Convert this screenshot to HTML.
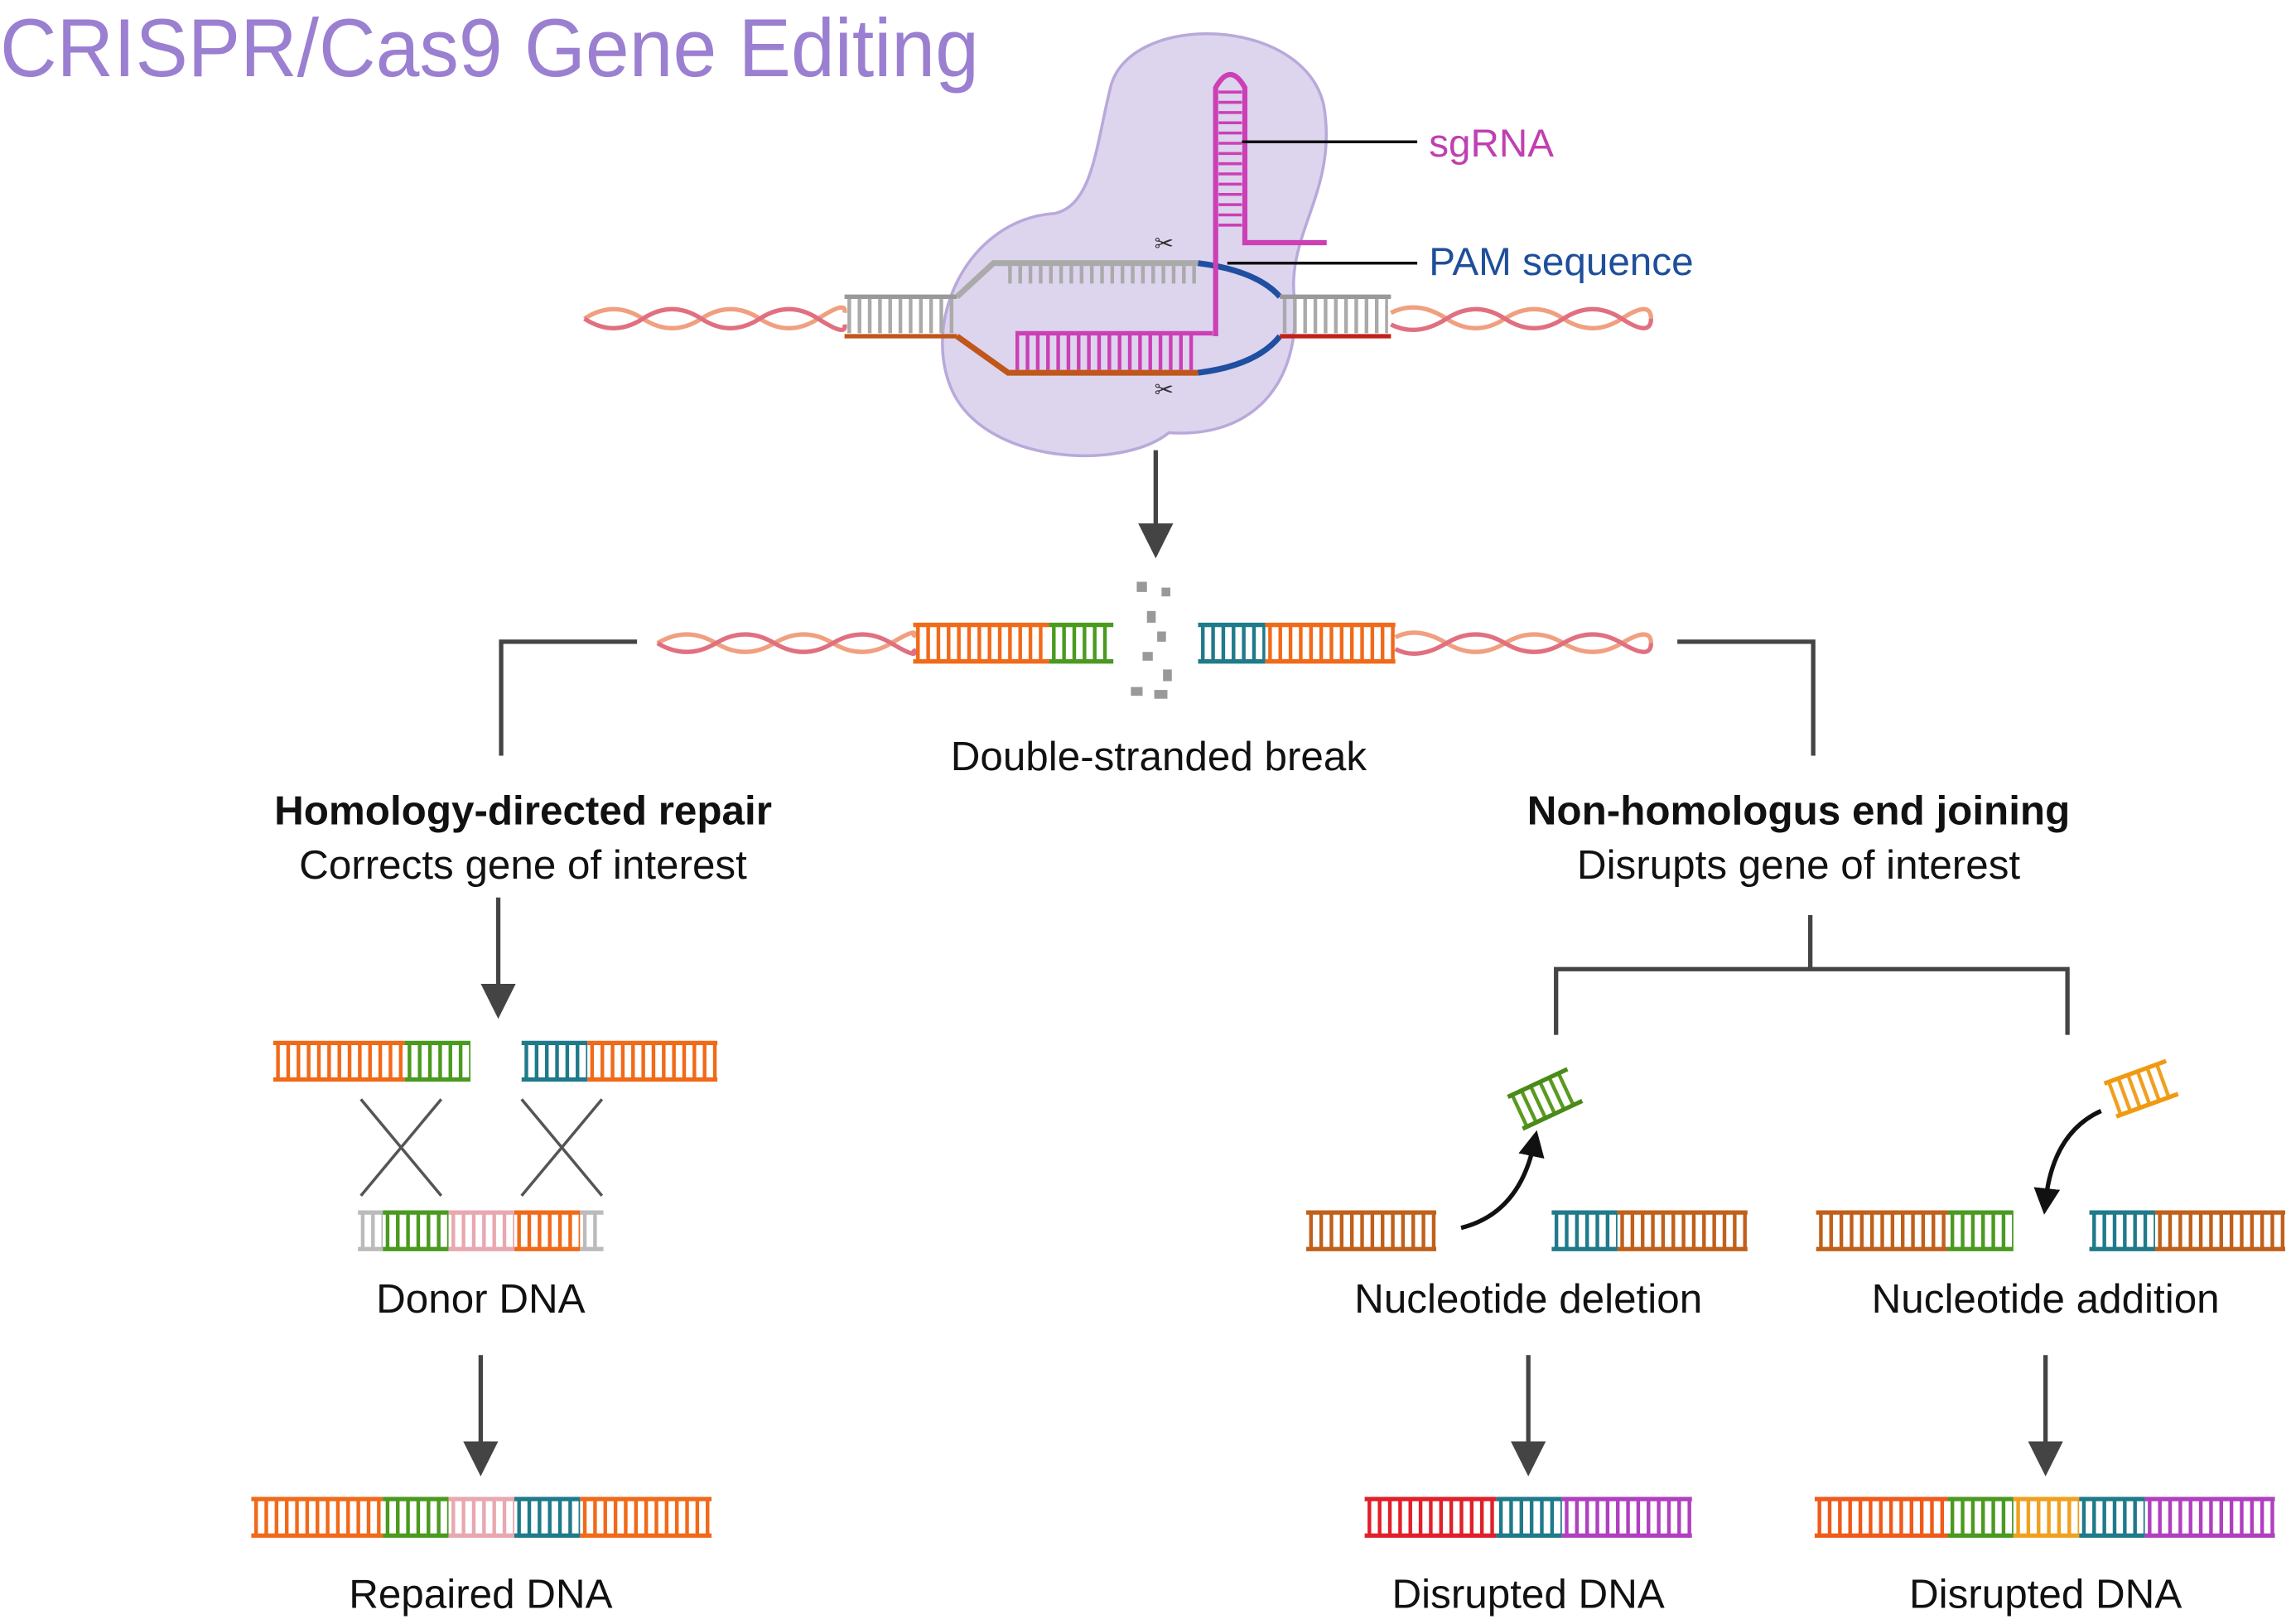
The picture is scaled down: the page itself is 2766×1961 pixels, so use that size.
<!DOCTYPE html>
<html><head><meta charset="utf-8">
<style>html,body{margin:0;padding:0;background:#fff;}svg{display:block}</style>
</head><body>
<svg width="2766" height="1961" viewBox="0 0 1568 1111" preserveAspectRatio="none" xmlns="http://www.w3.org/2000/svg" font-family="Liberation Sans, sans-serif">
<defs>
<marker id="ah" markerWidth="8" markerHeight="8" refX="4" refY="4" orient="auto" markerUnits="strokeWidth">
<path d="M0,0 L8,4 L0,8 Z" fill="#444"/></marker>
<marker id="ak" markerWidth="6" markerHeight="6" refX="3" refY="3" orient="auto" markerUnits="strokeWidth">
<path d="M0,0 L6,3 L0,6 Z" fill="#111"/></marker>
</defs>
<text x="0" y="52" font-size="56" fill="#9b7fd0" textLength="670" lengthAdjust="spacingAndGlyphs">CRISPR/Cas9 Gene Editing</text>

<!-- Cas9 blob -->
<path d="M760,60 C772,8 892,10 906,72 C916,130 880,160 886,205 C890,262 858,300 800,296 C768,322 676,318 652,268 C630,220 662,150 722,146 C748,140 750,100 760,60 Z" fill="#ddd4ee" stroke="#b9a9da" stroke-width="2"/>

<!-- helices top -->
<g fill="none" stroke-width="3">
<path d="M400,218 Q420,205 440,218 T480,218 T520,218 T560,218 T578,214" stroke="#f0a080"/>
<path d="M400,218 Q420,231 440,218 T480,218 T520,218 T560,218 T578,222" stroke="#e07080"/>
<path d="M952,214 Q970,205 990,218 T1030,218 T1070,218 T1110,218 T1130,218" stroke="#f0a080"/>
<path d="M952,222 Q970,231 990,218 T1030,218 T1070,218 T1110,218 T1130,218" stroke="#e07080"/>
</g>
<!-- top ladder -->
<line x1="580" y1="216" x2="655" y2="216" stroke="#aaa" stroke-width="24" stroke-dasharray="2.5 4.5"/>
<line x1="578" y1="203" x2="655" y2="203" stroke="#999" stroke-width="3"/>
<line x1="578" y1="230" x2="655" y2="230" stroke="#c0561a" stroke-width="3"/>
<path d="M655,203 L680,180 L820,180" stroke="#aaa" stroke-width="4" fill="none"/>
<line x1="690" y1="188" x2="820" y2="188" stroke="#aaa" stroke-width="12" stroke-dasharray="2.5 4.5"/>
<path d="M655,230 L690,255 L820,255" stroke="#c0561a" stroke-width="4" fill="none"/>
<line x1="695" y1="240" x2="820" y2="240" stroke="#cc3fb5" stroke-width="26" stroke-dasharray="2.5 4.5"/>
<line x1="695" y1="228" x2="830" y2="228" stroke="#cc3fb5" stroke-width="3"/>
<path d="M820,180 Q860,185 876,203 M820,255 Q860,250 876,230" stroke="#1f4fa0" stroke-width="4" fill="none"/>
<line x1="878" y1="216" x2="950" y2="216" stroke="#aaa" stroke-width="24" stroke-dasharray="2.5 4.5"/>
<line x1="876" y1="203" x2="952" y2="203" stroke="#999" stroke-width="3"/>
<line x1="876" y1="230" x2="952" y2="230" stroke="#c0221a" stroke-width="3"/>
<!-- sgRNA -->
<path d="M832,230 L832,60 Q842,42 852,60 L852,166 L908,166" stroke="#cc3fb5" stroke-width="3.5" fill="none"/>
<line x1="842" y1="62" x2="842" y2="160" stroke="#cc3fb5" stroke-width="16" stroke-dasharray="2 5"/>
<line x1="850" y1="97" x2="970" y2="97" stroke="#111" stroke-width="2"/>
<line x1="840" y1="180" x2="970" y2="180" stroke="#111" stroke-width="2"/>
<text x="978" y="107" font-size="27" fill="#c040b0">sgRNA</text>
<text x="978" y="188" font-size="27" fill="#1f4f9a">PAM sequence</text>
<text x="790" y="172" font-size="16" fill="#333">✂</text>
<text x="790" y="272" font-size="16" fill="#333">✂</text>

<!-- arrows & connectors -->
<g stroke="#444" stroke-width="3" fill="none">
<line x1="791" y1="308" x2="791" y2="370" marker-end="url(#ah)"/>
<polyline points="436,439 343,439 343,517"/>
<polyline points="1148,439 1241,439 1241,517"/>
<line x1="341" y1="614" x2="341" y2="685" marker-end="url(#ah)"/>
<line x1="329" y1="927" x2="329" y2="998" marker-end="url(#ah)"/>
<line x1="1046" y1="927" x2="1046" y2="998" marker-end="url(#ah)"/>
<line x1="1400" y1="927" x2="1400" y2="998" marker-end="url(#ah)"/>
<line x1="1239" y1="626" x2="1239" y2="663"/>
<polyline points="1065,708 1065,663 1415,663 1415,708"/>
</g>
<!-- break row helices -->
<g fill="none" stroke-width="3">
<path d="M450,440 Q470,428 490,440 T530,440 T570,440 T610,440 T625,436" stroke="#f0a080"/>
<path d="M450,440 Q470,452 490,440 T530,440 T570,440 T610,440 T625,444" stroke="#e07080"/>
<path d="M955,436 Q970,428 990,440 T1030,440 T1070,440 T1110,440 T1130,440" stroke="#f0a080"/>
<path d="M955,444 Q970,452 990,440 T1030,440 T1070,440 T1110,440 T1130,440" stroke="#e07080"/>
</g>
<g fill="#999">
<rect x="778" y="398" width="7" height="7"/><rect x="795" y="402" width="6" height="6"/><rect x="785" y="418" width="6" height="8"/>
<rect x="792" y="432" width="6" height="7"/><rect x="782" y="446" width="7" height="6"/><rect x="796" y="458" width="6" height="8"/>
<rect x="774" y="470" width="8" height="6"/><rect x="790" y="472" width="9" height="6"/>
</g>
<text x="793" y="527" font-size="28" fill="#111" text-anchor="middle">Double-stranded break</text>
<text x="358" y="564" font-size="28" font-weight="bold" fill="#111" text-anchor="middle">Homology-directed repair</text>
<text x="358" y="601" font-size="28" fill="#111" text-anchor="middle">Corrects gene of interest</text>
<text x="1231" y="564" font-size="28" font-weight="bold" fill="#111" text-anchor="middle">Non-homologus end joining</text>
<text x="1231" y="601" font-size="28" fill="#111" text-anchor="middle">Disrupts gene of interest</text>
<text x="329" y="898" font-size="28" fill="#111" text-anchor="middle">Donor DNA</text>
<text x="329" y="1100" font-size="28" fill="#111" text-anchor="middle">Repaired DNA</text>
<text x="1046" y="898" font-size="28" fill="#111" text-anchor="middle">Nucleotide deletion</text>
<text x="1400" y="898" font-size="28" fill="#111" text-anchor="middle">Nucleotide addition</text>
<text x="1046" y="1100" font-size="28" fill="#111" text-anchor="middle">Disrupted DNA</text>
<text x="1400" y="1100" font-size="28" fill="#111" text-anchor="middle">Disrupted DNA</text>
<!-- X crosses -->
<g stroke="#555" stroke-width="2">
<line x1="247" y1="752" x2="302" y2="818"/><line x1="302" y1="752" x2="247" y2="818"/>
<line x1="357" y1="752" x2="412" y2="818"/><line x1="412" y1="752" x2="357" y2="818"/>
</g>
<!-- curved arrows -->
<path d="M1000,840 Q1040,830 1050,782" stroke="#111" stroke-width="3" fill="none" marker-end="url(#ak)"/>
<path d="M1438,760 Q1405,775 1400,822" stroke="#111" stroke-width="3" fill="none" marker-end="url(#ak)"/>

<!-- ladder segments -->
<g id="segs"></g>
<g transform="rotate(-25 1057 752)"><line x1="1037" y1="752" x2="1077" y2="752" stroke="#5a9a20" stroke-width="22" stroke-dasharray="2.5 4.5"/><line x1="1035" y1="740" x2="1080" y2="740" stroke="#4a8a18" stroke-width="3"/><line x1="1035" y1="764" x2="1080" y2="764" stroke="#4a8a18" stroke-width="3"/></g>
<g transform="rotate(-20 1465 745)"><line x1="1445" y1="745" x2="1485" y2="745" stroke="#f0a020" stroke-width="22" stroke-dasharray="2.5 4.5"/><line x1="1443" y1="733" x2="1488" y2="733" stroke="#f09a10" stroke-width="3"/><line x1="1443" y1="757" x2="1488" y2="757" stroke="#f09a10" stroke-width="3"/></g>
</svg>
<script>
var S=[
[625,718,426,'#f06a1a'],[718,762,426,'#4a9a20'],[820,866,426,'#1f7a8a'],[866,955,426,'#f06a1a'],
[187,277,712,'#f06a1a'],[277,322,712,'#4a9a20'],[357,402,712,'#1f7a8a'],[402,491,712,'#f06a1a'],
[245,262,828,'#bbbbbb'],[262,307,828,'#4a9a20'],[307,352,828,'#e8a8b0'],[352,397,828,'#f06a1a'],[397,413,828,'#bbbbbb'],
[172,262,1024,'#f06a1a'],[262,307,1024,'#4a9a20'],[307,352,1024,'#e8a8b0'],[352,397,1024,'#1f7a8a'],[397,487,1024,'#f06a1a'],
[894,983,828,'#c0601a'],[1062,1107,828,'#1f7a8a'],[1107,1196,828,'#c0601a'],
[1243,1333,828,'#c0601a'],[1333,1378,828,'#4a9a20'],[1430,1475,828,'#1f7a8a'],[1475,1564,828,'#c0601a'],
[934,1024,1024,'#e0202a'],[1024,1069,1024,'#1f7a8a'],[1069,1158,1024,'#b040c0'],
[1242,1333,1024,'#f05a1a'],[1333,1378,1024,'#4a9a20'],[1378,1423,1024,'#f0a020'],[1423,1468,1024,'#1f7a8a'],[1468,1557,1024,'#b040c0']];
var g=document.getElementById('segs'),h='';
S.forEach(function(s){var a=s[0],b=s[1],y=s[2],c=s[3];
h+='<line x1="'+(a+2)+'" y1="'+(y+14)+'" x2="'+b+'" y2="'+(y+14)+'" stroke="'+c+'" stroke-width="24" stroke-dasharray="2.5 4.5"/>';
h+='<line x1="'+a+'" y1="'+(y+1.5)+'" x2="'+b+'" y2="'+(y+1.5)+'" stroke="'+c+'" stroke-width="3"/>';
h+='<line x1="'+a+'" y1="'+(y+26.5)+'" x2="'+b+'" y2="'+(y+26.5)+'" stroke="'+c+'" stroke-width="3"/>';});
g.innerHTML=h;
</script>
</body></html>
